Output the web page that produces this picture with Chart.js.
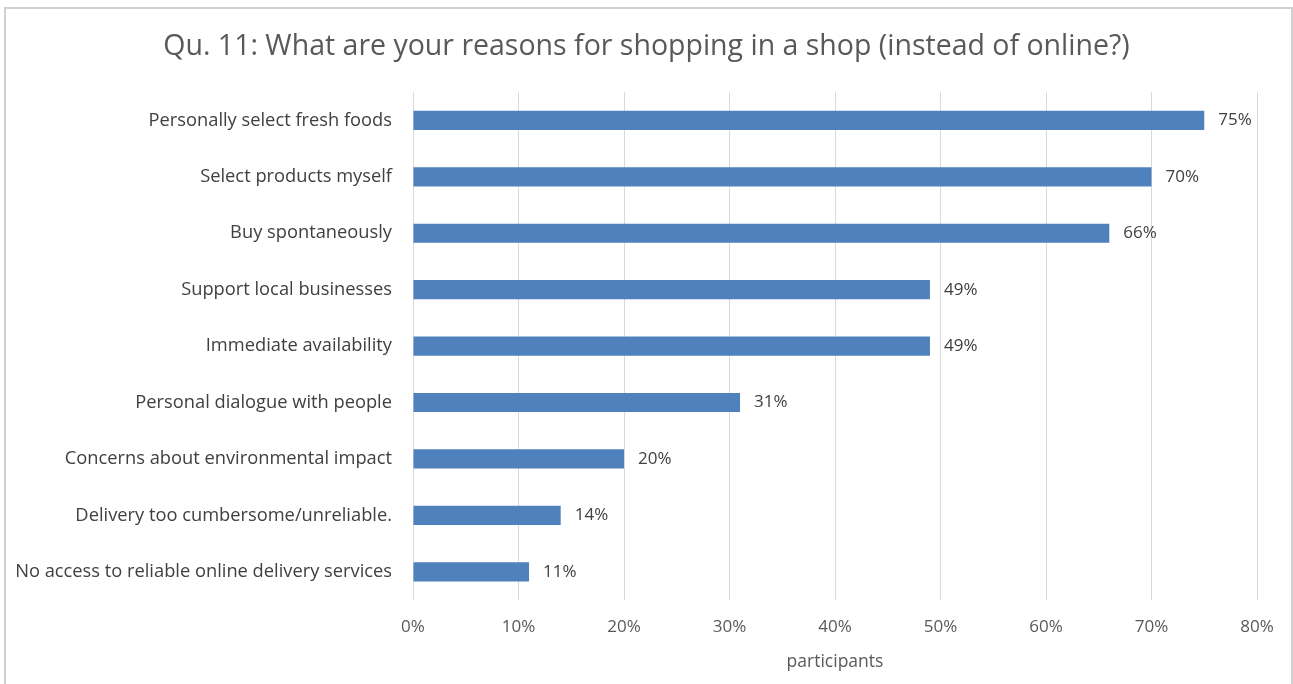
<!DOCTYPE html>
<html>
<head>
<meta charset="utf-8">
<title>Qu. 11</title>
<script src="https://cdn.jsdelivr.net/npm/chart.js@4/dist/chart.umd.min.js"></script>
<style>
  html, body { margin: 0; padding: 0; background: #fff; overflow: hidden; }
  #wrap { position: absolute; left: 0; top: 0; width: 1293px; height: 684px; }
  #frame { position: absolute; left: 4px; top: 7px; width: 1285px; height: 700px;
           border: 2px solid #d0d0d0; pointer-events: none; }
</style>
</head>
<body>
<div id="wrap"><canvas id="shopChart" width="1293" height="684"></canvas></div>
<div id="frame"></div>
<script>
const reasons = [
  'Personally select fresh foods',
  'Select products myself',
  'Buy spontaneously',
  'Support local businesses',
  'Immediate availability',
  'Personal dialogue with people',
  'Concerns about environmental impact',
  'Delivery too cumbersome/unreliable.',
  'No access to reliable online delivery services'
];
const shares = [75, 70, 66, 49, 49, 31, 20, 14, 11];
const axisTicks = [0, 10, 20, 30, 40, 50, 60, 70, 80];

const FONT = '"Open Sans", Lato, sans-serif';

// value labels at the end of each bar
const barLabels = {
  id: 'barLabels',
  afterDatasetsDraw(chart) {
    const ctx = chart.ctx;
    const meta = chart.getDatasetMeta(0);
    ctx.save();
    ctx.font = '17px ' + FONT;
    ctx.fillStyle = '#404040';
    ctx.textAlign = 'left';
    ctx.textBaseline = 'middle';
    meta.data.forEach((bar, i) => {
      ctx.fillText(shares[i] + '%', bar.x + 14, bar.y);
    });
    ctx.restore();
  }
};

new Chart(document.getElementById('shopChart').getContext('2d'), {
  type: 'bar',
  data: {
    labels: reasons,
    datasets: [{
      data: shares,
      backgroundColor: '#4f81bd',
      borderWidth: 0,
      categoryPercentage: 1,
      barPercentage: 0.34
    }]
  },
  options: {
    indexAxis: 'y',
    responsive: false,
    animation: false,
    layout: { padding: 0 },
    plugins: {
      legend: { display: false },
      tooltip: { enabled: false },
      title: {
        display: true,
        text: 'Qu. 11: What are your reasons for shopping in a shop (instead of online?)',
        color: '#595959',
        font: { family: FONT, size: 28.5, weight: 'normal' },
        padding: { top: 30, bottom: 28 }
      }
    },
    scales: {
      x: {
        min: 0,
        max: 80,
        afterBuildTicks(scale) {
          scale.ticks = axisTicks.map(v => ({ value: v }));
        },
        afterFit(scale) {
          scale.height = 84;
          scale.paddingRight = 36;
        },
        grid: { color: '#d9d9d9', lineWidth: 1, drawTicks: false },
        border: { display: false },
        ticks: {
          color: '#595959',
          font: { family: FONT, size: 17 },
          padding: 17,
          maxRotation: 0,
          callback: v => v + '%'
        },
        title: {
          display: true,
          text: 'participants',
          color: '#595959',
          font: { family: FONT, size: 17.5 },
          padding: { top: 0, bottom: 11 }
        }
      },
      y: {
        afterFit(scale) { scale.width = 413; },
        grid: { display: false, drawTicks: false },
        border: { display: false },
        ticks: {
          color: '#404040',
          font: { family: FONT, size: 18.3 },
          padding: 21
        }
      }
    }
  },
  plugins: [barLabels]
});
</script>
</body>
</html>
